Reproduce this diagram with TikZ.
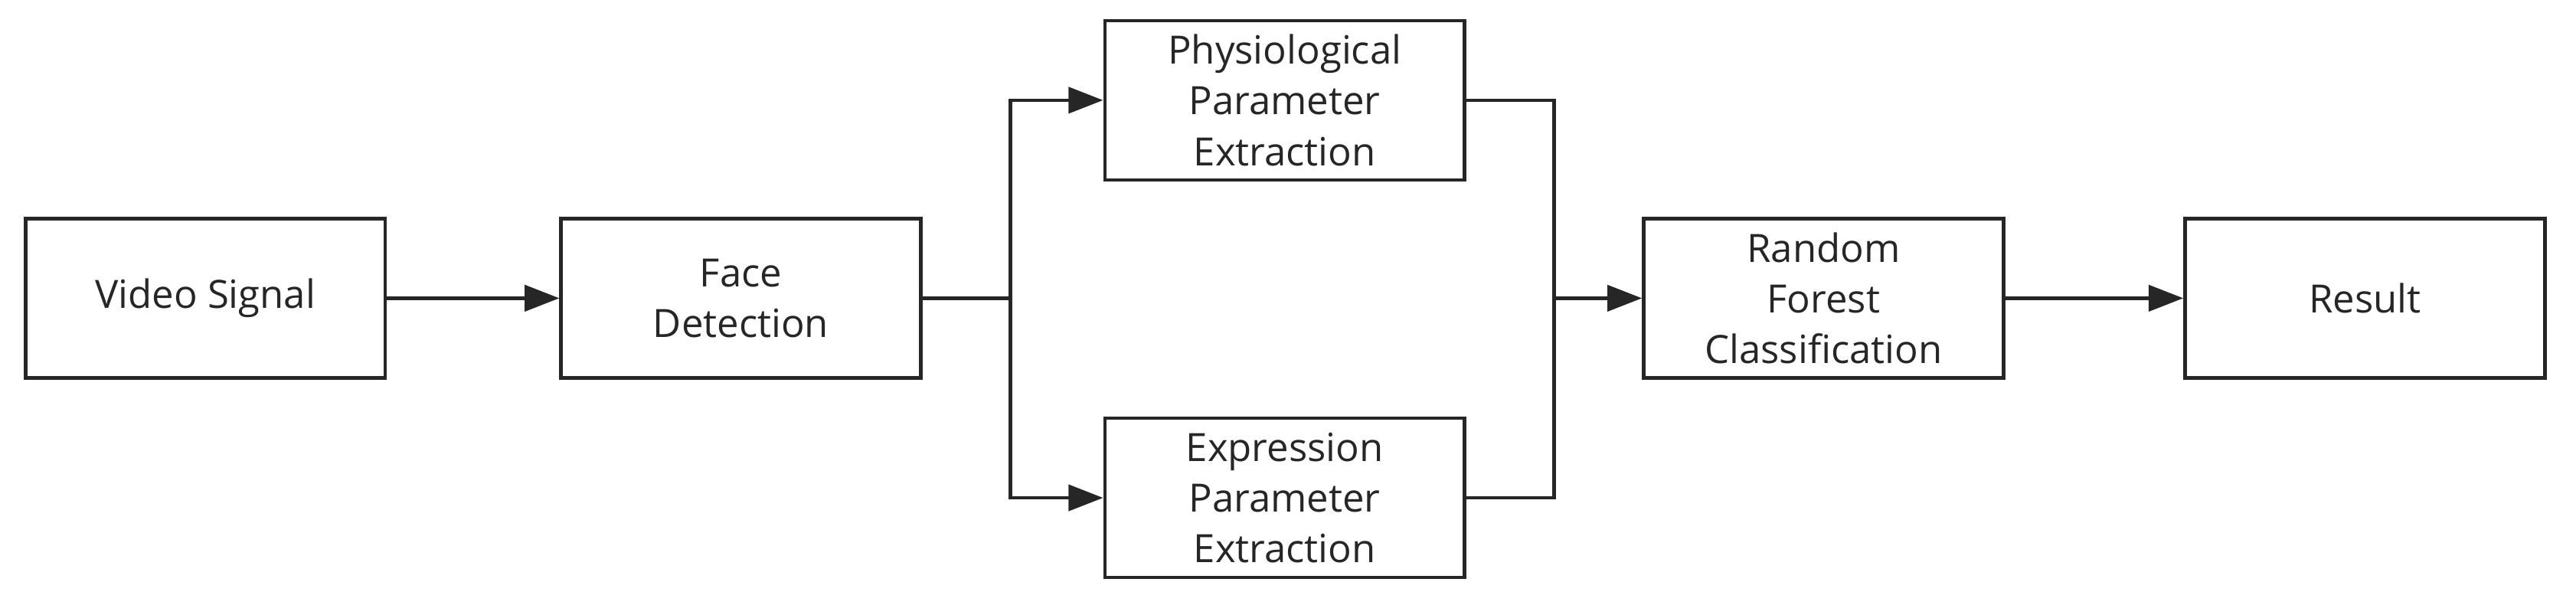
\documentclass[tikz,border=0pt]{standalone}
\usepackage{fontspec}
\setmainfont{Open Sans}
\usetikzlibrary{arrows.meta}
\begin{document}
\begin{tikzpicture}[x=0.02cm,y=-0.02cm,
  box/.style={draw=black!85,line width=1.2pt,minimum width=4.38cm,minimum height=1.94cm,align=center,inner sep=1pt,font=\fontsize{13.5}{17.6}\selectfont,text=black!85},
  conn/.style={draw=black!85,line width=1.2pt,-{Triangle[length=12pt,width=9pt]}},
  line/.style={draw=black!85,line width=1.2pt}]
\useasboundingbox (0,0) rectangle (1568,368);
\node[box] (v) at (125,181.5) {Video Signal};
\node[box] (f) at (451,181.5) {Face\\Detection};
\node[box] (p) at (782,61) {Physiological\\Parameter\\Extraction};
\node[box] (e) at (782,303) {Expression\\Parameter\\Extraction};
\node[box] (r) at (1110,181.5) {Random\\Forest\\Classification};
\node[box] (o) at (1439.5,181.5) {Result};
\coordinate (s) at (615,181.5);
\coordinate (m) at (946,181.5);
\draw[conn] (v) -- (f);
\draw[line] (f) -- (s);
\draw[conn] (s) |- (p);
\draw[conn] (s) |- (e);
\draw[line] (p.east) -- (946,61) -- (m);
\draw[line] (e.east) -- (946,303) -- (m);
\draw[conn] (m) -- (r);
\draw[conn] (r) -- (o);
\end{tikzpicture}
\end{document}
